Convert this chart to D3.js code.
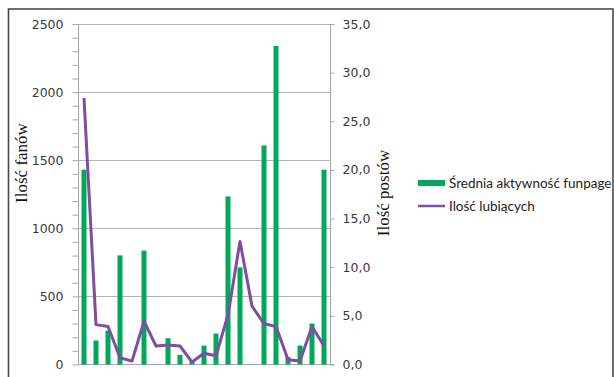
<!DOCTYPE html>
<html>
<head>
<meta charset="utf-8">
<script src="https://cdn.jsdelivr.net/npm/d3@7"></script>
<style>
  body { margin: 0; background: #fff; }
  svg { display: block; }
</style>
</head>
<body>
<svg id="canvas"></svg>
<script>
// 21 categories, no labels on the x axis
let categories = d3.range(1, 22)

// bars, left axis (Ilość fanów)
let barValues = [1430, 176, 249, 801, 0, 836, 0, 193, 71, 25, 139, 227, 1234, 713, 0, 1608, 2339, 55, 139, 301, 1430]

// line, right axis (Ilość postów)
let lineValues = [27.4, 4.1, 3.9, 0.7, 0.35, 4.45, 1.9, 2.0, 1.9, 0.25, 1.15, 0.9, 5.1, 12.65, 6.0, 4.2, 3.9, 0.5, 0.35, 3.9, 1.9]

let leftTicks = [0, 500, 1000, 1500, 2000, 2500]
let rightTicks = [0, 5, 10, 15, 20, 25, 30, 35]

let barLabel = 'Średnia aktywność funpage'
let lineLabel = 'Ilość lubiących'

let width = 614
let height = 377

let plotLeft = 78
let plotRight = 330
let plotTop = 24
let plotBottom = 364.5

let green = '#00a859'
let purple = '#7f4ea3'

let svg = d3.select('#canvas')
  .attr('width', width)
  .attr('height', height)

// outer frame
svg.append('rect')
  .attr('x', 8.5)
  .attr('y', 9)
  .attr('width', 604.5)
  .attr('height', 400)
  .attr('fill', 'none')
  .attr('stroke', '#4a4a4a')
  .attr('stroke-width', 1.6)

let xScale = d3.scaleBand()
  .domain(categories)
  .range([plotLeft, plotRight])

let yLeft = d3.scaleLinear()
  .domain([0, 2500])
  .range([plotBottom, plotTop])

let yRight = d3.scaleLinear()
  .domain([0, 35])
  .range([plotBottom, plotTop])

// gridlines
svg.append('g')
  .selectAll('line')
  .data(leftTicks.slice(1))
  .enter()
  .append('line')
  .attr('x1', plotLeft)
  .attr('x2', plotRight)
  .attr('y1', (d) => Math.round(yLeft(d)) + 0.5)
  .attr('y2', (d) => Math.round(yLeft(d)) + 0.5)
  .attr('stroke', '#b4b4b4')
  .attr('stroke-width', 1)

// left axis with minor ticks every 100
let leftAxis = svg.append('g')
  .attr('transform', `translate(${plotLeft + 0.5}, 0)`)

leftAxis.call(d3.axisLeft(yLeft).tickValues(d3.range(0, 2501, 100)).tickSize(6).tickFormat(''))
leftAxis.selectAll('line').attr('stroke', '#a6a6a6')
leftAxis.select('.domain').attr('stroke', '#a6a6a6').attr('d', `M0,${plotTop}V${plotBottom}`)

leftAxis.selectAll('.lbl')
  .data(leftTicks)
  .enter()
  .append('text')
  .attr('class', 'lbl')
  .attr('x', -15)
  .attr('y', (d) => yLeft(d) + 4.5)
  .attr('text-anchor', 'end')
  .attr('font-family', 'DejaVu Sans, sans-serif')
  .attr('font-size', 12.5)
  .attr('fill', '#3a3a3a')
  .text((d) => d)

// right axis
let rightAxis = svg.append('g')
  .attr('transform', `translate(${plotRight + 0.5}, 0)`)

rightAxis.call(d3.axisRight(yRight).tickValues(rightTicks).tickSize(4).tickFormat(''))
rightAxis.selectAll('line').attr('stroke', '#a6a6a6')
rightAxis.select('.domain').attr('stroke', '#a6a6a6').attr('d', `M0,${plotTop}V${plotBottom}`)

rightAxis.selectAll('.lbl')
  .data(rightTicks)
  .enter()
  .append('text')
  .attr('class', 'lbl')
  .attr('x', 12)
  .attr('y', (d) => yRight(d) + 4.5)
  .attr('font-family', 'DejaVu Sans, sans-serif')
  .attr('font-size', 12.5)
  .attr('fill', '#3a3a3a')
  .text((d) => d.toFixed(1).replace('.', ','))

// bottom axis line
svg.append('line')
  .attr('x1', plotLeft)
  .attr('x2', plotRight + 4)
  .attr('y1', plotBottom)
  .attr('y2', plotBottom)
  .attr('stroke', '#a6a6a6')

// bars
let barW = 5
svg.append('g')
  .selectAll('rect')
  .data(barValues)
  .enter()
  .append('rect')
  .attr('x', (d, i) => xScale(categories[i]) + xScale.bandwidth() / 2 - barW / 2)
  .attr('y', (d) => yLeft(d))
  .attr('width', barW)
  .attr('height', (d) => plotBottom - yLeft(d))
  .attr('fill', green)

// line
let line = d3.line()
  .x((d, i) => xScale(categories[i]) + xScale.bandwidth() / 2)
  .y((d) => yRight(d))

svg.append('path')
  .datum(lineValues)
  .attr('d', line)
  .attr('fill', 'none')
  .attr('stroke', purple)
  .attr('stroke-width', 3)
  .attr('stroke-linejoin', 'round')

// axis titles
svg.append('text')
  .attr('transform', 'translate(27, 163) rotate(-90)')
  .attr('text-anchor', 'middle')
  .attr('font-family', 'Liberation Serif, serif')
  .attr('font-size', 17)
  .attr('fill', '#111')
  .text('Ilość fanów')

svg.append('text')
  .attr('transform', 'translate(389, 193) rotate(-90)')
  .attr('text-anchor', 'middle')
  .attr('font-family', 'Liberation Serif, serif')
  .attr('font-size', 17)
  .attr('fill', '#111')
  .text('Ilość postów')

// legend
let legend = svg.append('g')

legend.append('rect')
  .attr('x', 418)
  .attr('y', 180)
  .attr('width', 27)
  .attr('height', 6)
  .attr('fill', green)

legend.append('text')
  .attr('x', 449)
  .attr('y', 187.5)
  .attr('font-family', 'Lato, sans-serif')
  .attr('font-size', 13.5)
  .attr('fill', '#222')
  .text(barLabel)

legend.append('line')
  .attr('x1', 418)
  .attr('x2', 445)
  .attr('y1', 206)
  .attr('y2', 206)
  .attr('stroke', purple)
  .attr('stroke-width', 2.5)

legend.append('text')
  .attr('x', 449)
  .attr('y', 211)
  .attr('font-family', 'Lato, sans-serif')
  .attr('font-size', 13.5)
  .attr('fill', '#222')
  .text(lineLabel)
</script>
</body>
</html>
